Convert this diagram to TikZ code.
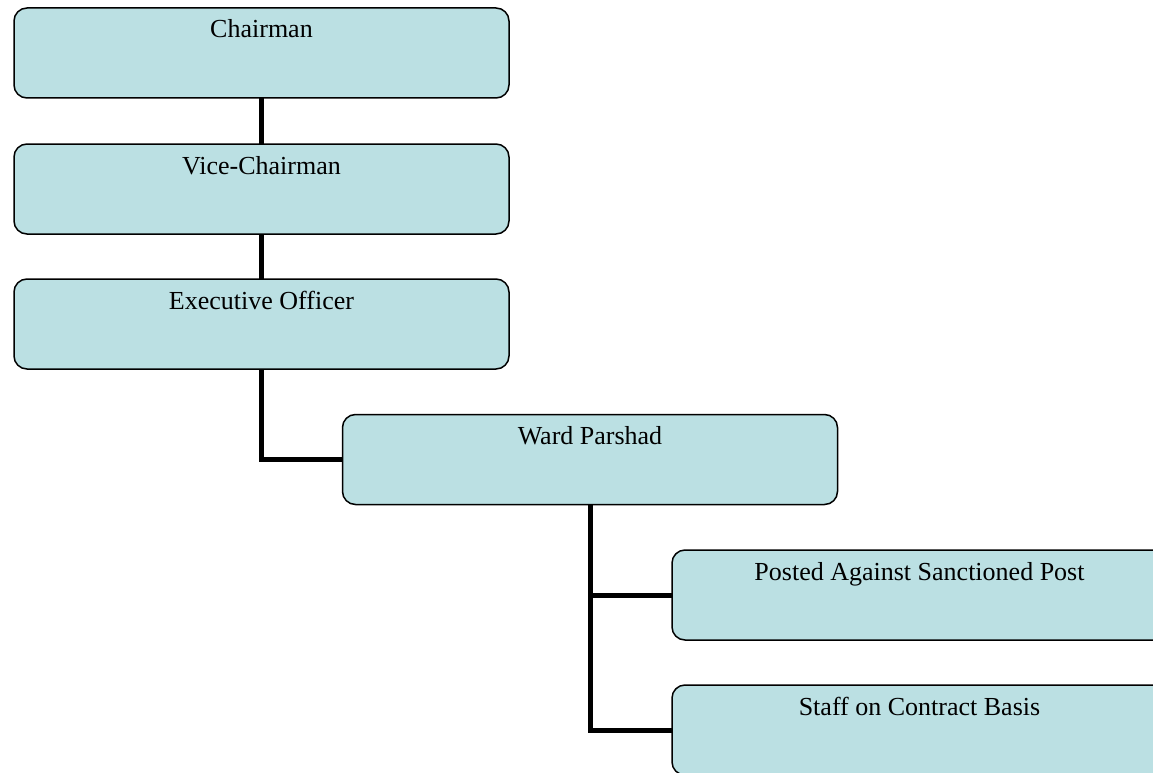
\documentclass[tikz,border=0pt]{standalone}
\usepackage{fontspec}
\setmainfont{Liberation Serif}
\usetikzlibrary{calc,backgrounds}
\definecolor{boxfill}{RGB}{187,224,227}
\begin{document}
\begin{tikzpicture}[x=1pt,y=-1pt,
  orgbox/.style={draw=black,line width=1.5pt,fill=boxfill,rounded corners=13pt,
    minimum width=495pt,minimum height=90pt,inner sep=0pt,outer sep=0pt},
  orgtext/.style={anchor=base,inner sep=0pt,font=\fontsize{26}{30}\selectfont},
  conn/.style={draw=black,line width=5pt}]
\useasboundingbox (0,0) rectangle (1153,773);
\clip (0,0) rectangle (1153,773);
\node[orgbox] (ch) at (261.5,53) {};
\node[orgbox] (vc) at (261.5,189) {};
\node[orgbox] (ex) at (261.5,324) {};
\node[orgbox] (wp) at (590,459.5) {};
\node[orgbox] (pa) at (919.5,595) {};
\node[orgbox] (st) at (919.5,730) {};
\node[orgtext] (cht) at ($(ch.north)+(0,30)$) {Chairman};
\node[orgtext] (vct) at ($(vc.north)+(0,30)$) {Vice-Chairman};
\node[orgtext] (ext) at ($(ex.north)+(0,30)$) {Executive Officer};
\node[orgtext] (wpt) at ($(wp.north)+(0,30)$) {Ward Parshad};
\node[orgtext] (pat) at ($(pa.north)+(0,30)$) {Posted Against Sanctioned Post};
\node[orgtext] (stt) at ($(st.north)+(0,30)$) {Staff on Contract Basis};
\begin{scope}[on background layer]
\draw[conn] (ch.south) -- (vc.north);
\draw[conn] (vc.south) -- (ex.north);
\draw[conn] (ex.south) |- (wp.west);
\draw[conn] (wp.south) |- (pa.west);
\draw[conn] (wp.south) |- (st.west);
\end{scope}
\end{tikzpicture}
\end{document}
